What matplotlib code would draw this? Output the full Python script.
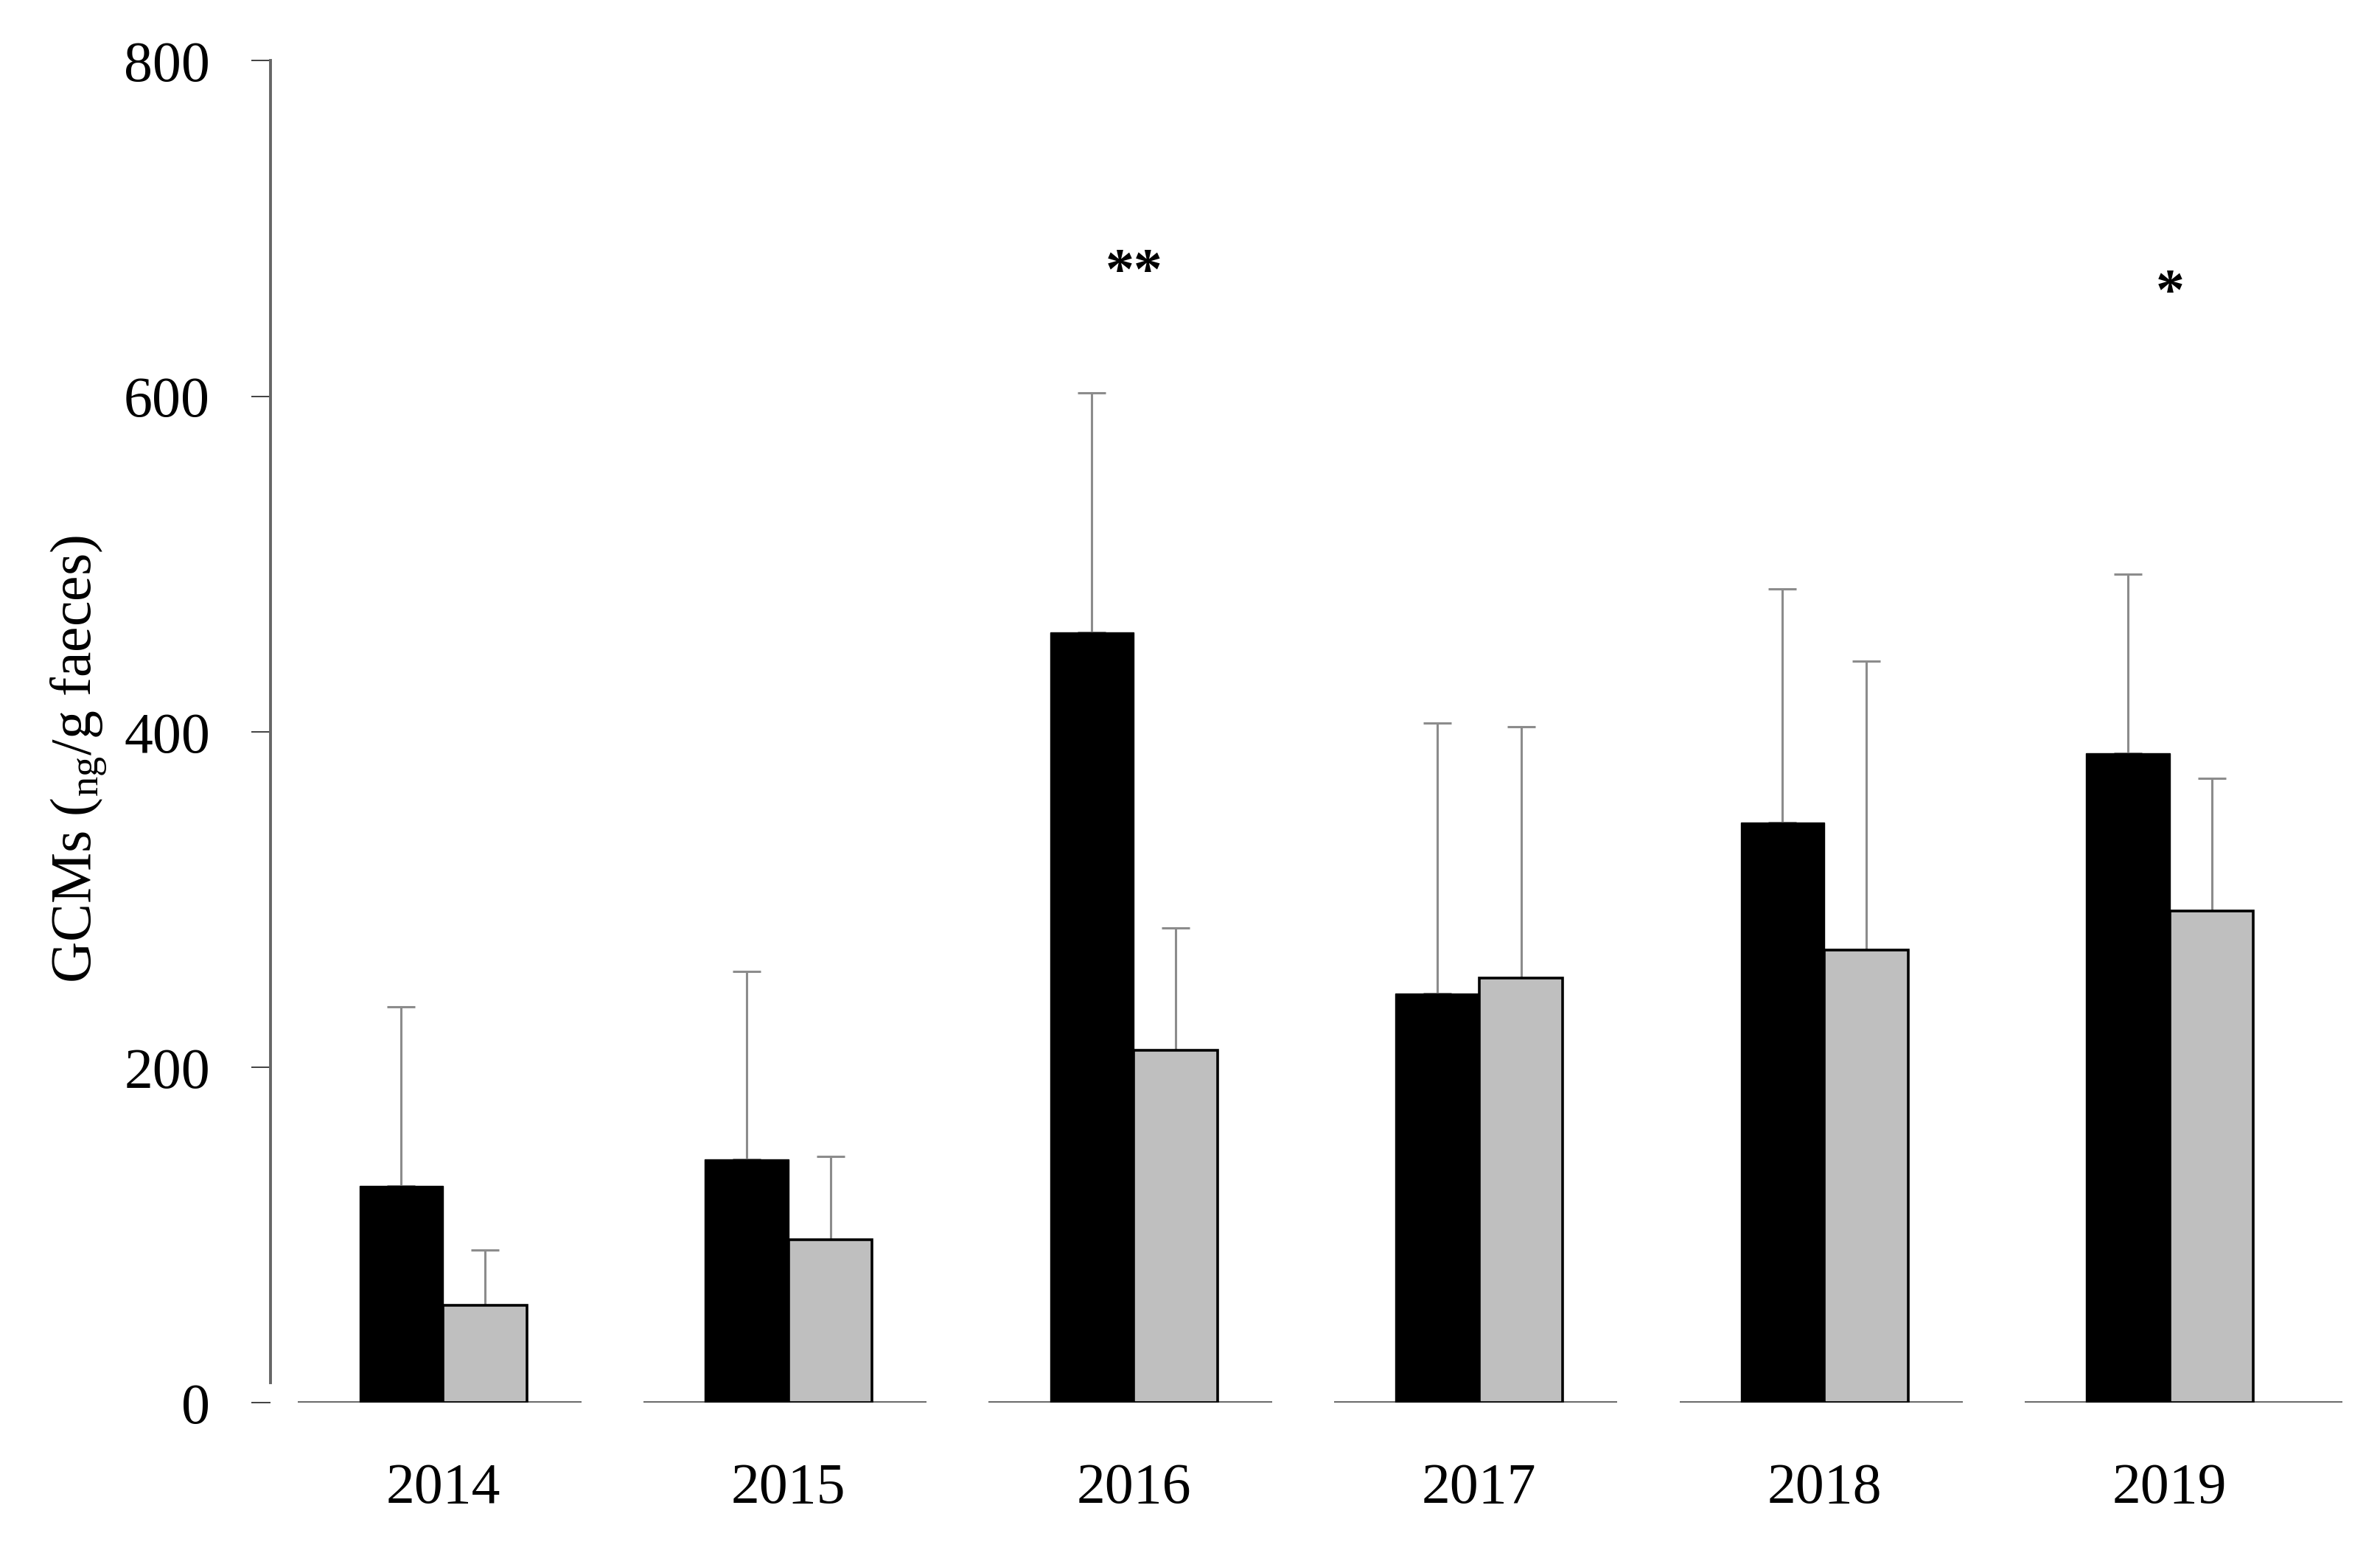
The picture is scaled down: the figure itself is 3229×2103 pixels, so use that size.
import matplotlib
matplotlib.use("Agg")
import matplotlib.pyplot as plt
import numpy as np

# GCM concentrations per year, two groups (black / grey), mean and upper SD
years = ["2014", "2015", "2016", "2017", "2018", "2019"]
black_mean = [129, 145, 459, 244, 346, 387]
black_upper = [236, 257, 602, 405, 485, 494]
grey_mean = [58, 97, 210, 253, 270, 293]
grey_upper = [91, 147, 283, 403, 442, 372]
signif = ["", "", "**", "", "", "*"]
signif_y = [0, 0, 673, 0, 0, 661]
yticks = [0, 200, 400, 600, 800]

plt.rcParams["font.family"] = ["Liberation Serif", "DejaVu Serif"]
plt.rcParams["mathtext.fontset"] = "custom"
plt.rcParams["mathtext.rm"] = "Liberation Serif"
plt.rcParams["mathtext.it"] = "Liberation Serif:italic"

fs = 56
fig = plt.figure(figsize=(32.3, 21.035), dpi=100)
ax = fig.add_axes([0.11362, 0.09506, 0.8703, 0.8655])

x = np.arange(len(years))
w = 0.2425
black_err = np.array(black_upper) - np.array(black_mean)
grey_err = np.array(grey_upper) - np.array(grey_mean)
zeros = np.zeros(len(years))

ax.bar(x - w / 2, black_mean, w, color="black", edgecolor="black",
       linewidth=1.0, zorder=3)
ax.bar(x + w / 2, grey_mean, w, color="#bfbfbf", edgecolor="black",
       linewidth=2.6, zorder=3)
ax.errorbar(x - w / 2, black_mean, yerr=[zeros, black_err], fmt="none",
            ecolor="#8c8c8c", elinewidth=2.2, capsize=14, capthick=2.2, zorder=2)
ax.errorbar(x + w / 2, grey_mean, yerr=[zeros, grey_err], fmt="none",
            ecolor="#8c8c8c", elinewidth=2.2, capsize=14, capthick=2.2, zorder=2)

# broken baseline: one segment under each year group
for i in x:
    right = i + 0.40 if i < len(years) - 1 else 5.5
    ax.hlines(0, i - 0.42, right, color="#5a5a5a", linewidth=2.6, zorder=2)

for i, s in enumerate(signif):
    if s:
        ax.text(i, signif_y[i], s, ha="center", va="center", fontsize=fs,
                fontweight="bold")

ax.set_xlim(-0.5, 5.5)
ax.set_ylim(0, 800)
ax.set_xticks(x)
ax.set_xticklabels(years, fontsize=fs)
ax.set_yticks(yticks)
ax.set_yticklabels([str(v) for v in yticks], fontsize=fs)
ax.tick_params(axis="x", length=0, pad=58)
ax.tick_params(axis="y", length=19, width=1.4, color="#404040", pad=40)

for side in ["top", "right", "bottom"]:
    ax.spines[side].set_visible(False)
ax.spines["left"].set_color("#666666")
ax.spines["left"].set_linewidth(2.8)
ax.spines["left"].set_bounds(12, 800)

ax.set_ylabel(r"GCMs ($_{\mathrm{ng}}$/g faeces)", fontsize=fs, va="center")
ax.yaxis.set_label_coords(-0.0925, 0.48)

fig.savefig("out.png", dpi=100)
